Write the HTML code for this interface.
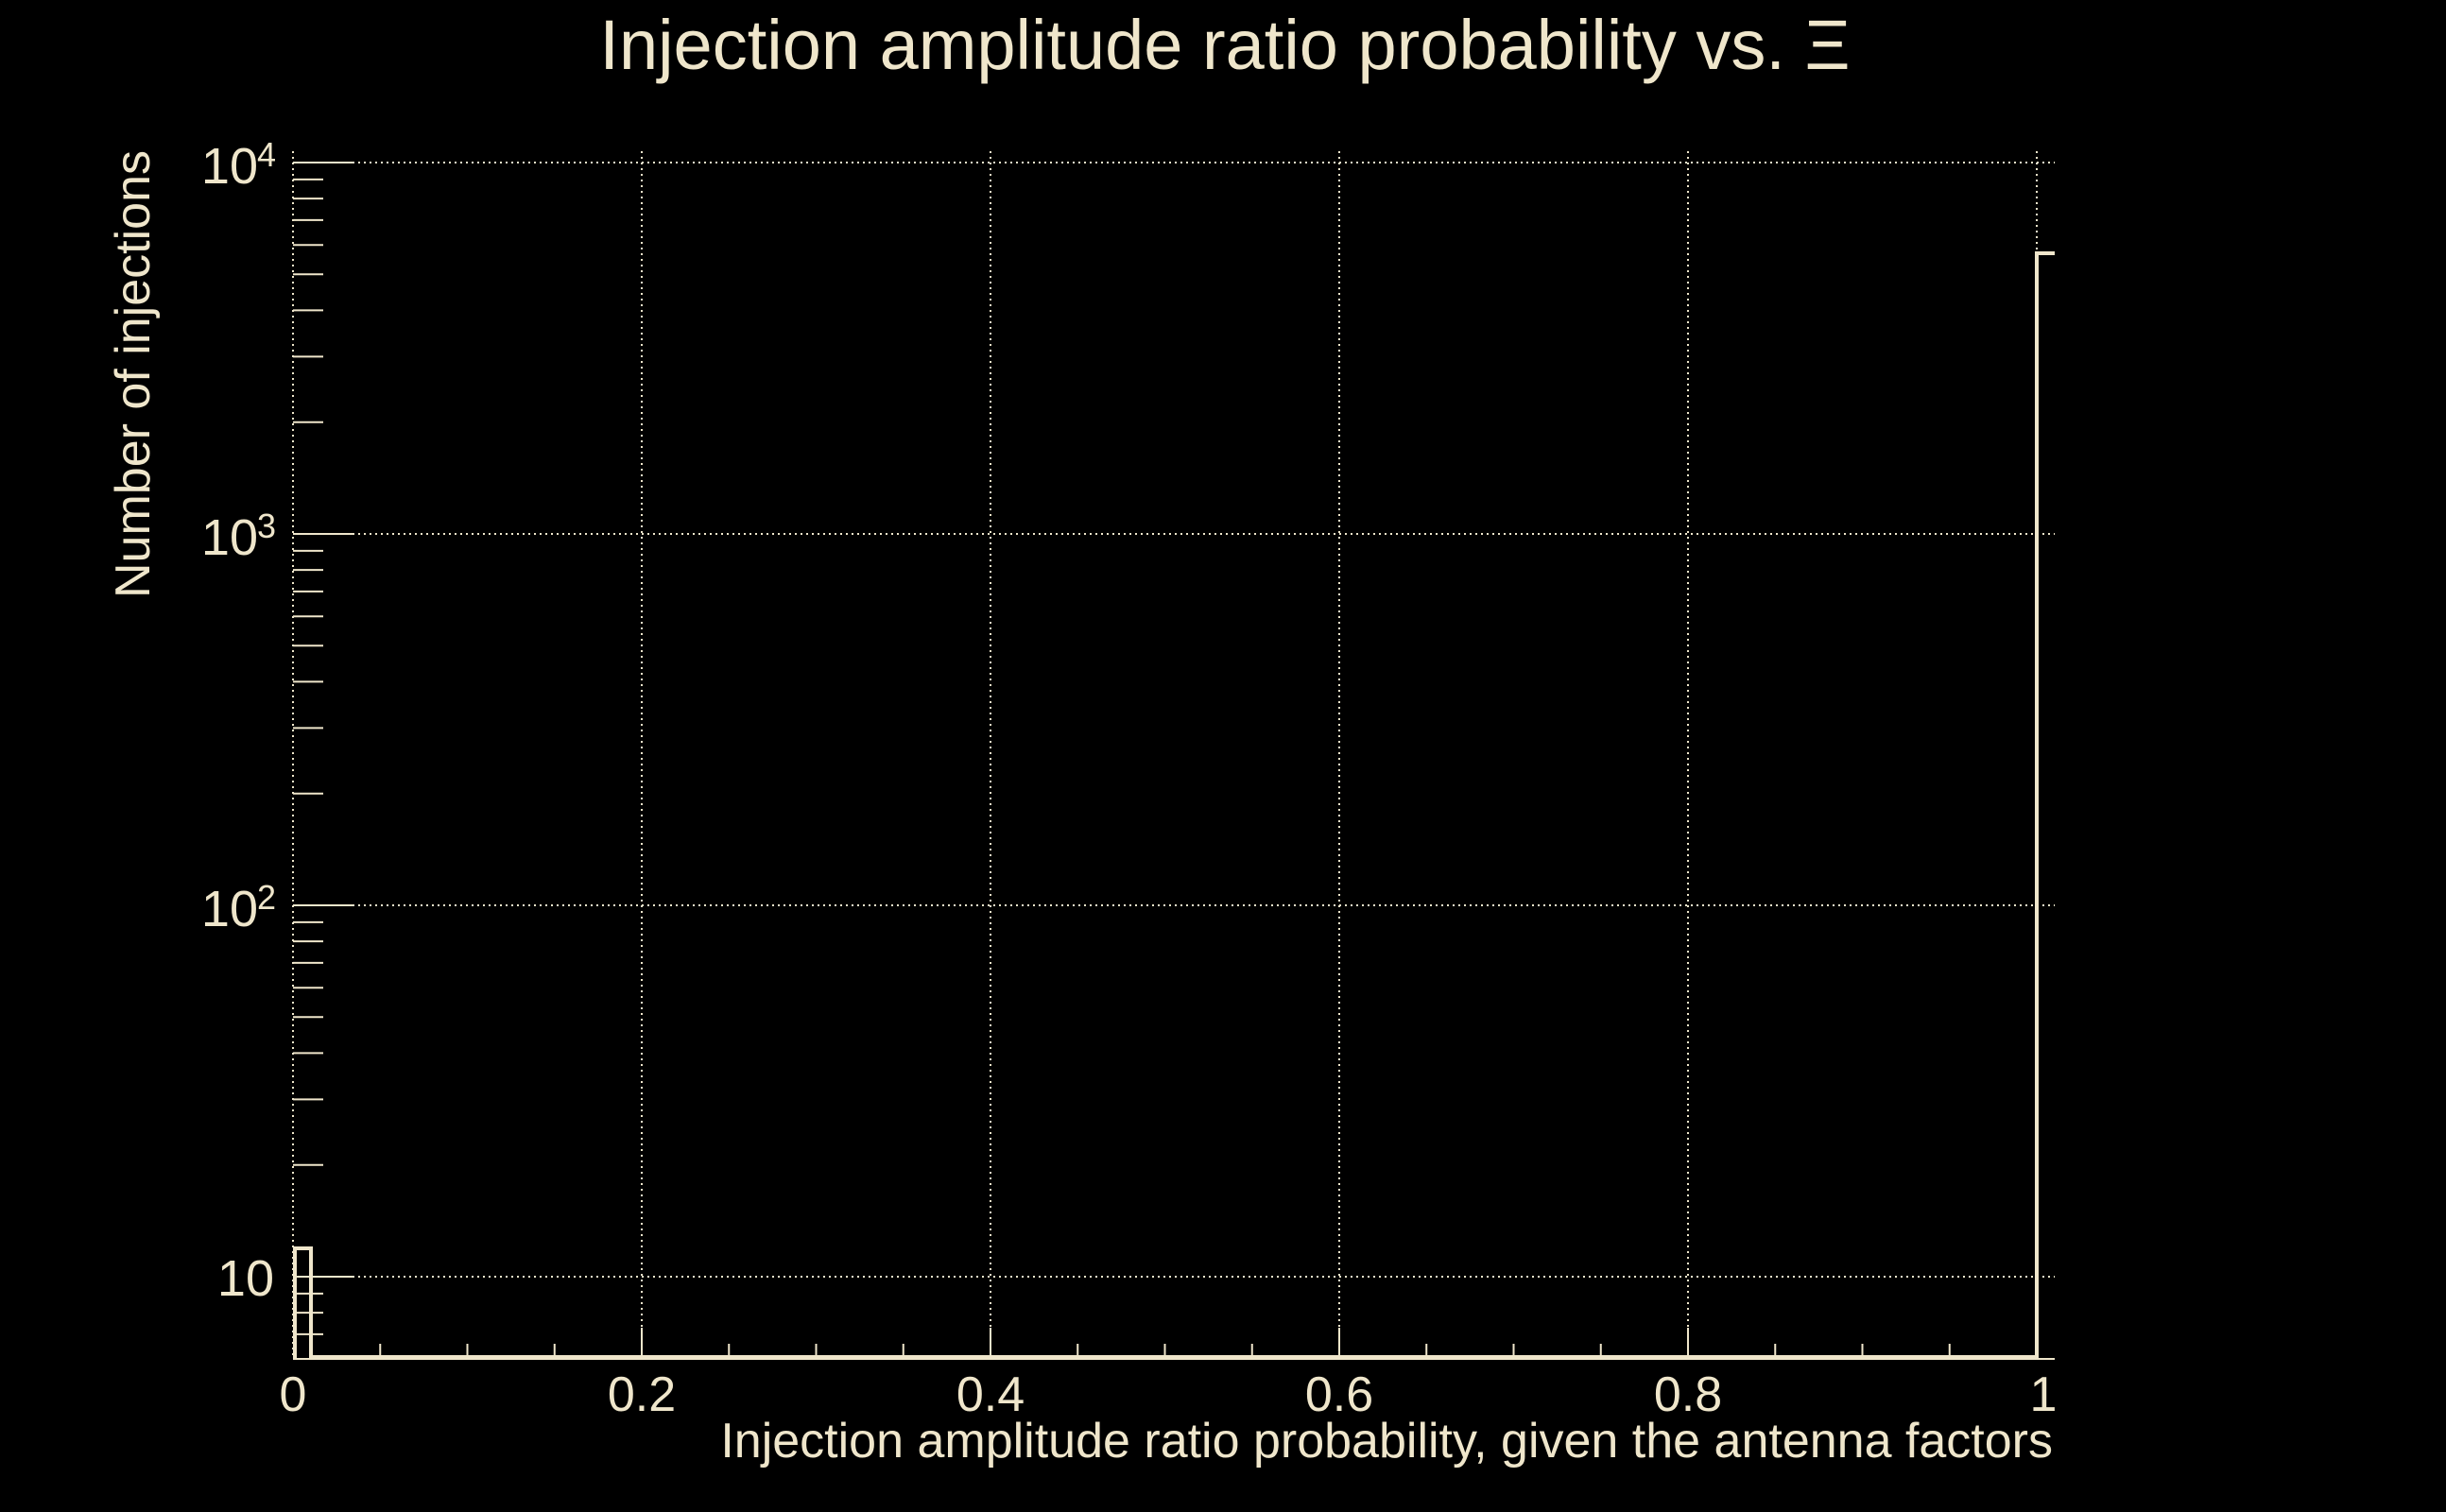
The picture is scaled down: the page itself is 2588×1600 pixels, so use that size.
<!DOCTYPE html>
<html><head><meta charset="utf-8"><style>
html,body{margin:0;padding:0;background:#000;}
svg{display:block;}
text{font-family:"Liberation Sans",sans-serif;fill:#efe6cb;}
</style></head><body>
<svg width="2588" height="1600" viewBox="0 0 2588 1600" xmlns="http://www.w3.org/2000/svg">
<rect width="2588" height="1600" fill="#000"/>
<g stroke="#efe6cb" stroke-width="2" stroke-dasharray="2,4" fill="none">
<line x1="373" y1="172" x2="2174" y2="172"/>
<line x1="373" y1="565" x2="2174" y2="565"/>
<line x1="373" y1="958" x2="2174" y2="958"/>
<line x1="373" y1="1351" x2="2174" y2="1351"/>
<line x1="310" y1="160" x2="310" y2="1438"/>
<line x1="679" y1="160" x2="679" y2="1405"/>
<line x1="1048" y1="160" x2="1048" y2="1405"/>
<line x1="1417" y1="160" x2="1417" y2="1405"/>
<line x1="1786" y1="160" x2="1786" y2="1405"/>
<line x1="2155" y1="160" x2="2155" y2="1405"/>
</g>
<g stroke="#efe6cb" stroke-width="2" fill="none">
<line x1="310" y1="1438" x2="2174" y2="1438"/>
<path d="M310 172H373M310 565H373M310 958H373M310 1351H373"/>
<path d="M310 446.7H342M310 377.4H342M310 328.4H342M310 290.3H342M310 259.2H342M310 232.9H342M310 210.1H342M310 189.9H342
M310 839.7H342M310 770.4H342M310 721.4H342M310 683.3H342M310 652.2H342M310 625.9H342M310 603.1H342M310 582.9H342
M310 1232.7H342M310 1163.4H342M310 1114.4H342M310 1076.3H342M310 1045.2H342M310 1018.9H342M310 996.1H342M310 975.9H342
M310 1411.9H342M310 1389.1H342M310 1368.9H342"/>
<path d="M679 1438V1405M1048 1438V1405M1417 1438V1405M1786 1438V1405M2155 1438V1405"/>
<path d="M402.25 1438V1422M494.5 1438V1422M586.75 1438V1422M771.25 1438V1422M863.5 1438V1422M955.75 1438V1422M1140.25 1438V1422M1232.5 1438V1422M1324.75 1438V1422M1509.25 1438V1422M1601.5 1438V1422M1693.75 1438V1422M1878.25 1438V1422M1970.5 1438V1422M2062.75 1438V1422"/>
</g>
<path d="M312 1438V1321H329V1436H2155V268H2174" stroke="#efe6cb" stroke-width="4" fill="none"/>
<text x="1296" y="73" font-size="74" text-anchor="middle">Injection amplitude ratio probability vs.  Ξ</text>
<text x="2172" y="1542" font-size="52" text-anchor="end">Injection amplitude ratio probability, given the antenna factors</text>
<text transform="translate(158,396) rotate(-90)" font-size="52" text-anchor="middle">Number of injections</text>
<g font-size="52" text-anchor="middle">
<text x="310" y="1493">0</text>
<text x="679" y="1493">0.2</text>
<text x="1048" y="1493">0.4</text>
<text x="1417" y="1493">0.6</text>
<text x="1786" y="1493">0.8</text>
<text x="2162" y="1493">1</text>
</g>
<g font-size="54" text-anchor="end">
<text x="273" y="194">10</text><text x="292" y="176" font-size="36">4</text>
<text x="273" y="587">10</text><text x="292" y="569" font-size="36">3</text>
<text x="273" y="980">10</text><text x="292" y="962" font-size="36">2</text>
<text x="290" y="1371">10</text>
</g>
</svg>
</body></html>
